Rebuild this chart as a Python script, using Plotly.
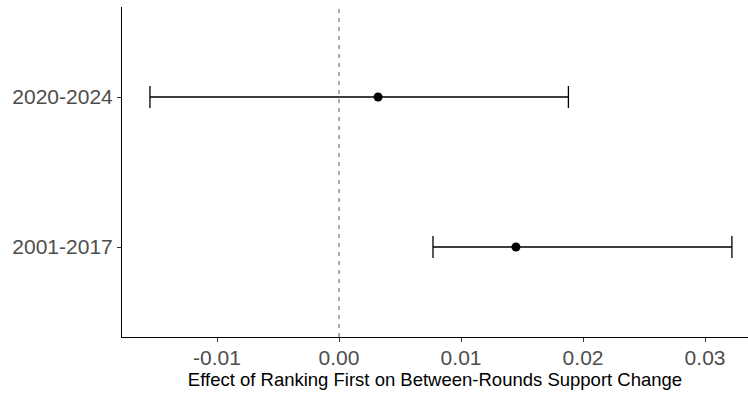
import plotly.graph_objects as go

periods = ["2001-2017", "2020-2024"]
estimates = [0.0145, 0.0032]
lower = [0.0077, -0.0155]
upper = [0.0322, 0.0188]

err_plus = [u - e for u, e in zip(upper, estimates)]
err_minus = [e - l for e, l in zip(estimates, lower)]

fig = go.Figure()
fig.add_trace(go.Scatter(
    x=estimates, y=periods, mode="markers",
    marker=dict(color="black", size=9),
    error_x=dict(type="data", symmetric=False, array=err_plus, arrayminus=err_minus,
                 color="black", thickness=1.3, width=11),
    showlegend=False,
))
fig.add_vline(x=0, line=dict(color="#666666", width=1.1, dash="4px,5px"))

font = "Liberation Sans, Arial, sans-serif"
fig.update_layout(
    width=748, height=395,
    margin=dict(l=122, r=0, t=7, b=58),
    paper_bgcolor="white", plot_bgcolor="white",
    font=dict(family=font),
    xaxis=dict(
        range=[-0.01779, 0.03352],
        tickvals=[-0.01, 0.0, 0.01, 0.02, 0.03],
        ticktext=["-0.01", "0.00", "0.01", "0.02", "0.03"],
        showgrid=False, zeroline=False,
        showline=True, linecolor="black", linewidth=1.1,
        ticks="outside", ticklen=4, tickcolor="#333333", tickwidth=1.1,
        ticklabelstandoff=-2,
        tickfont=dict(size=21, color="#4D4D4D"),
        title=dict(text="Effect of Ranking First on Between-Rounds Support Change",
                   font=dict(size=18.5, color="black"), standoff=0),
    ),
    yaxis=dict(
        type="category", categoryorder="array", categoryarray=periods,
        range=[-0.6, 1.6],
        showgrid=False, zeroline=False,
        showline=True, linecolor="black", linewidth=1.1,
        ticks="outside", ticklen=4, tickcolor="#333333", tickwidth=1.1,
        tickfont=dict(size=21, color="#4D4D4D"),
    ),
)
fig.write_html("out.html")
